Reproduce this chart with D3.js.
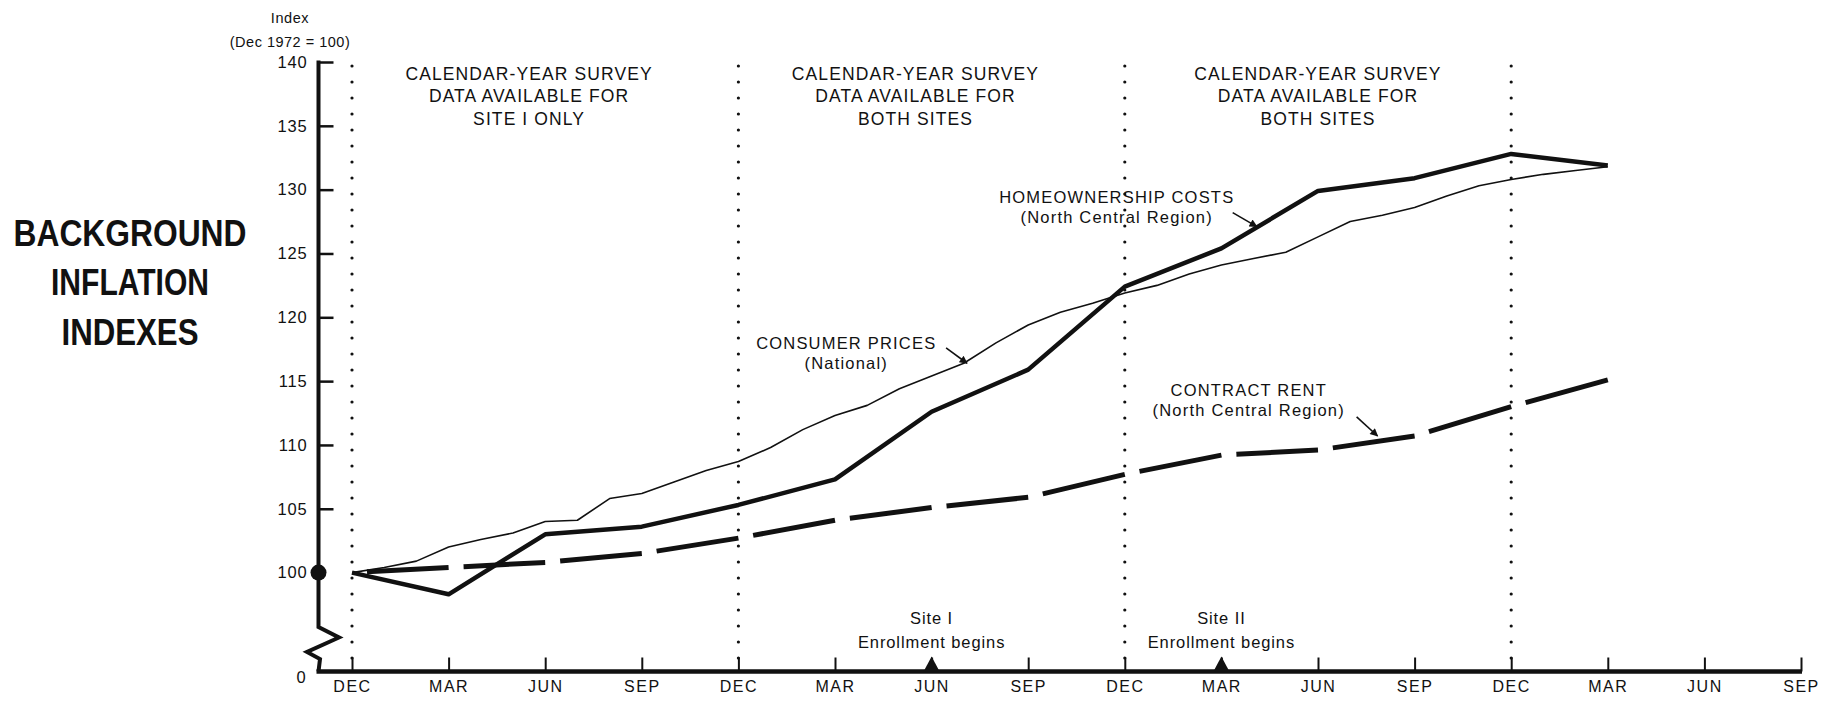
<!DOCTYPE html>
<html>
<head>
<meta charset="utf-8">
<script src="https://cdn.jsdelivr.net/npm/d3@7"></script>
<style>
  body { margin: 0; background: #fff; }
  svg { display: block; }
  text { font-family: "Liberation Sans", Arial, sans-serif; fill: #111; }
</style>
</head>
<body>
<div id="chart"></div>
<script>

var width = 1836,
    height = 702;

// months are counted from Dec 1972 (= 0)
var tickMonths = [0, 3, 6, 9, 12, 15, 18, 21, 24, 27, 30, 33, 36, 39, 42, 45];
var tickLabels = ["DEC", "MAR", "JUN", "SEP", "DEC", "MAR", "JUN", "SEP",
                  "DEC", "MAR", "JUN", "SEP", "DEC", "MAR", "JUN", "SEP"];
var yTicks = [100, 105, 110, 115, 120, 125, 130, 135, 140];

// Consumer prices (national), monthly Dec 1972 .. Mar 1976
var cpiMonths = [0, 1, 2, 3, 4, 5, 6, 7, 8, 9, 10, 11, 12, 13, 14, 15, 16, 17, 18, 19,
                 20, 21, 22, 23, 24, 25, 26, 27, 28, 29, 30, 31, 32, 33, 34, 35, 36, 37, 38, 39];
var cpi = [100.0, 100.4, 100.9, 102.0, 102.6, 103.1, 104.0, 104.1, 105.8, 106.2,
           107.1, 108.0, 108.7, 109.8, 111.2, 112.3, 113.1, 114.4, 115.4, 116.4,
           118.0, 119.4, 120.4, 121.1, 121.9, 122.5, 123.4, 124.1, 124.6, 125.1,
           126.3, 127.5, 128.0, 128.6, 129.5, 130.3, 130.8, 131.2, 131.5, 131.8];

// quarterly series
var quarterMonths = [0, 3, 6, 9, 12, 15, 18, 21, 24, 27, 30, 33, 36, 39];
var homeCosts = [100.0, 98.3, 103.0, 103.6, 105.3, 107.3, 112.6, 115.9, 122.4, 125.4, 129.9, 130.9, 132.8, 131.9];
var rent      = [100.0, 100.4, 100.8, 101.5, 102.7, 104.1, 105.1, 105.9, 107.7, 109.2, 109.6, 110.7, 113.0, 115.1];

var yearDividers = [0, 12, 24, 36];
var periodMonths = [5.5, 17.5, 30];
var periodText = [
  ["CALENDAR-YEAR SURVEY", "DATA AVAILABLE FOR", "SITE I ONLY"],
  ["CALENDAR-YEAR SURVEY", "DATA AVAILABLE FOR", "BOTH SITES"],
  ["CALENDAR-YEAR SURVEY", "DATA AVAILABLE FOR", "BOTH SITES"]
];

var enrollMonths = [18, 27];
var enrollText = [["Site I", "Enrollment begins"], ["Site II", "Enrollment begins"]];

// series labels: text anchor [month, index], arrow from / to [month, index]
var seriesNames = [["HOMEOWNERSHIP COSTS", "(North Central Region)"],
                   ["CONSUMER PRICES", "(National)"],
                   ["CONTRACT RENT", "(North Central Region)"]];
var nameAt    = [[23.75, 129.4], [15.35, 118.0], [27.85, 114.3]];
var arrowFrom = [[27.35, 128.2], [18.45, 117.6], [31.2, 112.2]];
var arrowTo   = [[28.1, 127.1], [19.1, 116.4], [31.85, 110.7]];

var titleLines = ["BACKGROUND", "INFLATION", "INDEXES"];


var svg = d3.select("#chart").append("svg")
    .attr("width", width)
    .attr("height", height);

var x = d3.scaleLinear().domain([0, 45]).range([352, 1801]);
var y = d3.scaleLinear().domain([100, 140]).range([572.6, 62]);

var axisX = 318.5,
    baseY = 671.5;

// arrow head
svg.append("defs").append("marker")
    .attr("id", "head")
    .attr("viewBox", "0 0 10 10")
    .attr("refX", 9).attr("refY", 5)
    .attr("markerWidth", 11).attr("markerHeight", 8)
    .attr("markerUnits", "userSpaceOnUse")
    .attr("orient", "auto")
  .append("path")
    .attr("d", "M0,0 L10,5 L0,10 Z")
    .attr("fill", "#111");

// big title on the left
svg.append("g").selectAll("text")
    .data(titleLines)
  .enter().append("text")
    .attr("x", 130)
    .attr("y", function(d, i) { return 233 + i * 49.5; })
    .attr("dy", "0.36em")
    .attr("text-anchor", "middle")
    .attr("font-size", 36)
    .attr("font-weight", "bold")
    .attr("textLength", function(d, i) { return [233, 158, 137][i]; })
    .attr("lengthAdjust", "spacingAndGlyphs")
    .text(function(d) { return d; });

// unit caption
svg.append("text").attr("x", 290).attr("y", 18).attr("dy", "0.35em")
    .attr("text-anchor", "middle").attr("font-size", 14.5).attr("letter-spacing", 0.6)
    .text("Index");
svg.append("text").attr("x", 290).attr("y", 42).attr("dy", "0.35em")
    .attr("text-anchor", "middle").attr("font-size", 14.5).attr("letter-spacing", 0.5)
    .text("(Dec 1972 = 100)");

// dotted year dividers
svg.append("g").selectAll("line")
    .data(yearDividers)
  .enter().append("line")
    .attr("x1", function(d) { return x(d); })
    .attr("x2", function(d) { return x(d); })
    .attr("y1", 66)
    .attr("y2", 664)
    .attr("stroke", "#111")
    .attr("stroke-width", 3.2)
    .attr("stroke-linecap", "round")
    .attr("stroke-dasharray", "0 16");

// period captions
periodText.forEach(function(lines, k) {
  svg.append("g").selectAll("text")
      .data(lines)
    .enter().append("text")
      .attr("x", x(periodMonths[k]))
      .attr("y", function(d, i) { return 74 + i * 22.2; })
      .attr("dy", "0.35em")
      .attr("text-anchor", "middle")
      .attr("font-size", 17.5)
      .attr("letter-spacing", 1.1)
      .text(function(d) { return d; });
});

// y axis (ticks point inward, labels outside)
var yAxis = svg.append("g")
    .attr("transform", "translate(" + axisX + ",0)")
    .call(d3.axisLeft(y).tickValues(yTicks).tickSize(-15).tickPadding(11));
yAxis.select(".domain").remove();
yAxis.selectAll(".tick line").attr("stroke", "#111").attr("stroke-width", 2.5);
yAxis.selectAll(".tick").filter(function(d) { return d === 100; }).select("line").remove();
yAxis.selectAll(".tick text")
    .attr("font-size", 16.5)
    .attr("letter-spacing", 0.8)
    .attr("fill", "#111")
    .attr("font-family", "Liberation Sans, Arial, sans-serif");

// axis line with the break
var breakLine = d3.line();
svg.append("path")
    .attr("d", breakLine([[axisX, y(140) - 1.5], [axisX, 627], [339, 637.5], [307, 652], [320, 659], [axisX, baseY]]))
    .attr("fill", "none")
    .attr("stroke", "#111")
    .attr("stroke-width", 4)
    .attr("stroke-linejoin", "miter");

svg.append("circle")
    .attr("cx", axisX)
    .attr("cy", y(100))
    .attr("r", 8)
    .attr("fill", "#111");

svg.append("text")
    .attr("x", 301).attr("y", 677).attr("dy", "0.35em")
    .attr("text-anchor", "middle").attr("font-size", 16.5)
    .text("0");

// x axis
var xAxis = svg.append("g")
    .attr("transform", "translate(0," + baseY + ")")
    .call(d3.axisBottom(x)
      .tickValues(tickMonths)
      .tickFormat(function(d, i) { return tickLabels[i]; })
      .tickSize(-14)
      .tickPadding(9));
xAxis.select(".domain").remove();
xAxis.selectAll(".tick line").attr("stroke", "#111").attr("stroke-width", 2);
xAxis.selectAll(".tick text")
    .attr("font-size", 16)
    .attr("letter-spacing", 1.5)
    .attr("fill", "#111")
    .attr("font-family", "Liberation Sans, Arial, sans-serif");

svg.append("line")
    .attr("x1", axisX - 2).attr("x2", x(45) + 1)
    .attr("y1", baseY).attr("y2", baseY)
    .attr("stroke", "#111")
    .attr("stroke-width", 4.5);

// enrollment markers
svg.append("g").selectAll("path")
    .data(enrollMonths)
  .enter().append("path")
    .attr("d", function(d) {
      var cx = x(d);
      return "M" + (cx - 8) + "," + baseY + "L" + cx + "," + (baseY - 15) + "L" + (cx + 8) + "," + baseY + "Z";
    })
    .attr("fill", "#111");

enrollText.forEach(function(lines, k) {
  svg.append("g").selectAll("text")
      .data(lines)
    .enter().append("text")
      .attr("x", x(enrollMonths[k]))
      .attr("y", function(d, i) { return 618 + i * 24; })
      .attr("dy", "0.35em")
      .attr("text-anchor", "middle")
      .attr("font-size", 16.5)
      .attr("letter-spacing", 0.9)
      .text(function(d) { return d; });
});

// consumer prices (thin)
var line = d3.line()
    .x(function(d) { return x(d[0]); })
    .y(function(d) { return y(d[1]); });

svg.append("path")
    .datum(d3.zip(cpiMonths, cpi))
    .attr("d", line)
    .attr("fill", "none")
    .attr("stroke", "#111")
    .attr("stroke-width", 1.6)
    .attr("stroke-linejoin", "round");

// homeownership costs (heavy)
svg.append("path")
    .datum(d3.zip(quarterMonths, homeCosts))
    .attr("d", line)
    .attr("fill", "none")
    .attr("stroke", "#111")
    .attr("stroke-width", 4.5)
    .attr("stroke-linejoin", "round");

// contract rent (heavy dashes, one dash per quarter with a gap at its start)
var rentPts = d3.zip(quarterMonths, rent);
var rentSegs = d3.pairs(rentPts);
svg.append("g").selectAll("line")
    .data(rentSegs)
  .enter().append("line")
    .each(function(s) {
      var x0 = x(s[0][0]), y0 = y(s[0][1]), x1 = x(s[1][0]), y1 = y(s[1][1]);
      var len = Math.hypot(x1 - x0, y1 - y0),
          t = 15 / len;
      d3.select(this)
        .attr("x1", x0 + (x1 - x0) * t)
        .attr("y1", y0 + (y1 - y0) * t)
        .attr("x2", x1)
        .attr("y2", y1);
    })
    .attr("stroke", "#111")
    .attr("stroke-width", 5);

// series labels with arrows
seriesNames.forEach(function(lines, k) {
  svg.append("g").selectAll("text")
      .data(lines)
    .enter().append("text")
      .attr("x", x(nameAt[k][0]))
      .attr("y", function(d, i) { return y(nameAt[k][1]) + i * 20; })
      .attr("dy", "0.35em")
      .attr("text-anchor", "middle")
      .attr("font-size", 16.5)
      .attr("letter-spacing", 1.2)
      .text(function(d) { return d; });

  svg.append("line")
      .attr("x1", x(arrowFrom[k][0])).attr("y1", y(arrowFrom[k][1]))
      .attr("x2", x(arrowTo[k][0])).attr("y2", y(arrowTo[k][1]))
      .attr("stroke", "#111")
      .attr("stroke-width", 1.6)
      .attr("marker-end", "url(#head)");
});

</script>
</body>
</html>
